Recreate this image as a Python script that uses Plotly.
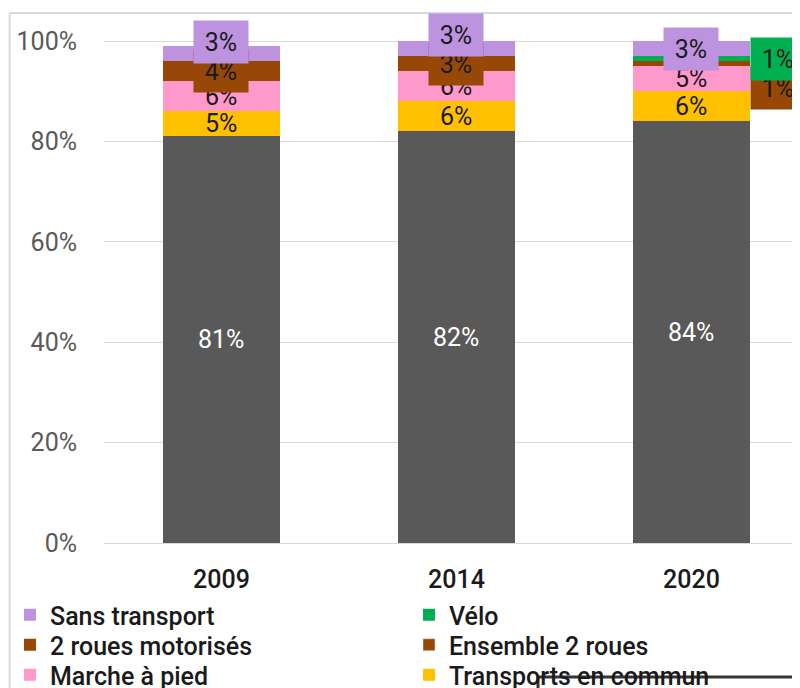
import plotly.graph_objects as go

years = ["2009", "2014", "2020"]
voiture = [81, 82, 84]
transports_commun = [5, 6, 6]
marche = [6, 6, 5]
deux_roues_mot = [4, 3, 1]
velo = [0, 0, 1]
sans_transport = [3, 3, 3]
ensemble_2_roues = [None, None, None]
y_tick_vals = [0, 20, 40, 60, 80, 100]
y_tick_text = ["0%", "20%", "40%", "60%", "80%", "100%"]

series = [
    # name, values, color, label colour, boxed label
    ("Voiture", voiture, "#595959", "white", False),
    ("Transports en commun", transports_commun, "#FFC000", "#1a1a1a", False),
    ("Marche à pied", marche, "#FF99CC", "#1a1a1a", False),
    ("2 roues motorisés", deux_roues_mot, "#974806", "#1a1a1a", True),
    ("Vélo", velo, "#00B050", "#1a1a1a", True),
    ("Sans transport", sans_transport, "#BD93DF", "#1a1a1a", True),
]
# legend layout: (name, column, row)
legend_slots = [
    ("Sans transport", 0, 0), ("Vélo", 1, 0),
    ("2 roues motorisés", 0, 1), ("Ensemble 2 roues", 1, 1),
    ("Marche à pied", 0, 2), ("Transports en commun", 1, 2),
]

FONT = "Roboto"
W, H = 800, 680          # page body adds an 8px offset
M_T, M_B, M_L, M_R = 6, 145, 96, 0
Y_MAX = 105.4
X_RANGE = [-0.5, 2.496]
BAR_W = 0.5
plot_h = H - M_T - M_B
px_per_unit = plot_h / Y_MAX
GAP_PX = 29
LABEL_SIZE = 25

legend_ids = {}
for k, (nm, col, row) in enumerate(legend_slots):
    legend_ids[nm] = "legend" if k == 0 else f"legend{k + 1}"

fig = go.Figure()
for name, vals, color, _, _ in series:
    fig.add_trace(go.Bar(
        x=years, y=vals, name=name, marker_color=color, marker_line_width=0,
        width=BAR_W, showlegend=(name in legend_ids),
        legend=legend_ids.get(name, "legend"),
    ))
fig.add_trace(go.Bar(
    x=years, y=ensemble_2_roues, name="Ensemble 2 roues", marker_color="#974806",
    width=BAR_W, legend=legend_ids["Ensemble 2 roues"],
))

annotations = []
for i, yr in enumerate(years):
    cum = 0
    inside, outside = [], []
    for name, vals, color, tcol, boxed in series:
        v = vals[i]
        if not v:
            continue
        mid = cum + v / 2
        cum += v
        item = dict(v=v, mid=mid, color=color, tcol=tcol, boxed=boxed)
        (outside if (v < 2 and boxed) else inside).append(item)
    prev_boxed = None
    for it in inside:
        y = it["mid"]
        if it["boxed"] and prev_boxed is not None:
            y = max(y, prev_boxed + GAP_PX / px_per_unit)
        if it["boxed"]:
            prev_boxed = y
        a = dict(x=i, y=y, xref="x", yref="y", text=f"{it['v']}%", showarrow=False,
                 font=dict(family=FONT, size=LABEL_SIZE, color=it["tcol"]))
        if it["boxed"]:
            a.update(bgcolor=it["color"], width=52, height=40)
        annotations.append(a)
    prev, placed = None, []
    for it in reversed(outside):
        y = it["mid"]
        if prev is not None:
            y = min(y, prev - GAP_PX / px_per_unit)
        prev = y
        placed.append((it, y))
    for it, y in reversed(placed):
        annotations.append(dict(
            x=i + BAR_W / 2, y=y, xref="x", yref="y", xanchor="left",
            text=f"{it['v']}%", showarrow=False, bgcolor=it["color"], width=52, height=40,
            font=dict(family=FONT, size=LABEL_SIZE, color=it["tcol"])))

legends = {}
row_y = [607, 637, 667]
col_x = [2, 401]
for k, (nm, col, row) in enumerate(legend_slots):
    key = "legend" if k == 0 else f"legend{k + 1}"
    legends[key] = dict(
        orientation="h", xref="container", yref="container",
        x=col_x[col] / W, y=1 - row_y[row] / H, xanchor="left", yanchor="middle",
        font=dict(family=FONT, size=25, color="#1a1a1a", weight=500),
        bgcolor="rgba(0,0,0,0)", itemwidth=30,
    )

fig.update_layout(
    width=W, height=H,
    margin=dict(t=M_T, b=M_B, l=M_L, r=M_R, autoexpand=False),
    barmode="stack",
    plot_bgcolor="white", paper_bgcolor="white",
    font=dict(family=FONT, color="#1a1a1a"),
    xaxis=dict(range=X_RANGE, tickfont=dict(size=25, color="#1a1a1a", weight=500),
               showgrid=False, ticks="", ticklabelstandoff=19),
    yaxis=dict(range=[0, Y_MAX], tickmode="array", tickvals=y_tick_vals, ticktext=y_tick_text,
               tickfont=dict(size=25, color="#595959"), gridcolor="#d9d9d9", gridwidth=1.3,
               zeroline=True, zerolinecolor="#d9d9d9", zerolinewidth=1.3,
               ticks="", ticklabelstandoff=26),
    annotations=annotations,
    shapes=[
        dict(type="line", xref="paper", yref="paper", x0=-0.134, x1=1.02, y0=1.0019, y1=1.0019,
             line=dict(color="#d9d9d9", width=2)),
        dict(type="line", xref="paper", yref="paper", x0=-0.134, x1=-0.134, y0=1.0019, y1=-0.3,
             line=dict(color="#d9d9d9", width=2)),
        dict(type="line", xref="paper", yref="paper", x0=0.6165, x1=1.02, y0=-0.2533, y1=-0.2533,
             line=dict(color="#333333", width=3)),
        dict(type="line", xref="paper", yref="paper", x0=0.6165, x1=0.6165, y0=-0.2533, y1=-0.3,
             line=dict(color="#333333", width=3)),
    ],
    **legends,
)

fig.write_html("out.html")
